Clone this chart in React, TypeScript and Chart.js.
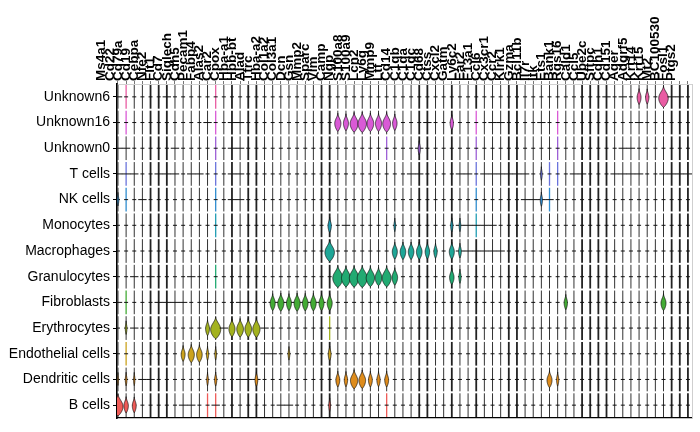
import React, { useEffect, useRef } from "react";
import { Chart, registerables } from "chart.js";
Chart.register(...registerables);

const genes = [
  "Ms4a1", "Cd22", "Cd79a", "Cd19", "Cebpa", "Nfe2", "Flt1", "Cd7", "Siglech", "Cdh5",
  "Pecam1", "Fabp4", "Alas2", "Car2", "Cpox", "Hba-a1", "Hbb-bt", "Alad", "Tfrc", "Hba-a2",
  "Col1a2", "Col3a1", "Dcn", "Gsn", "Mmp2", "Sparc", "Vim", "Camp", "Ngp", "S100a8",
  "S100a9", "Lcn2", "Ly6g", "Mmp9", "Ltf", "Cd14", "C1qb", "C1qa", "C1qc", "Cd68",
  "Ctss", "Cxcl2", "Gatm", "Ly6c2", "Ear2", "F13a1", "Ccl6", "Cx3cr1", "Ccr2", "Klrk1",
  "Gzma", "Bcl11b", "Il7r", "Itk", "Ets1", "Bank1", "Rgs16", "Cald1", "Ccl5", "Ube2c",
  "Sftpc", "Cdh1", "Cd151", "Ager", "Adgrf5", "Krt14", "Krt15", "Mt2", "BC100530", "Fosl1",
  "Ptgs2",
];

const cellTypes = [
  "Unknown6", "Unknown16", "Unknown0", "T cells", "NK cells", "Monocytes", "Macrophages",
  "Granulocytes", "Fibroblasts", "Erythrocytes", "Endothelial cells", "Dendritic cells", "B cells",
];

const rowColors = [
  "#e95ca3", "#d95ad6", "#9d5fd6", "#6a73dc", "#2f8ccf", "#1f9db3", "#1fa697",
  "#22aa72", "#43ab35", "#a3b21f", "#cba21e", "#de8c1c", "#ef5b57",
];

// violin body sizes (gene index, relative size 0..1) per cell type
const bulbsUnknown6: [number, number][] = [[1, 0.05], [12, 0.05], [64, 0.35], [65, 0.3], [67, 0.85]];
const bulbsUnknown16: [number, number][] = [[1, 0.05], [12, 0.05], [27, 0.55], [28, 0.45], [29, 0.7], [30, 0.75], [31, 0.6], [32, 0.55], [33, 0.7], [34, 0.4], [41, 0.3], [44, 0.05], [54, 0.05]];
const bulbsUnknown0: [number, number][] = [[12, 0.05], [33, 0.05], [37, 0.2], [44, 0.05], [54, 0.05]];
const bulbsTcells: [number, number][] = [[1, 0.05], [12, 0.05], [44, 0.05], [52, 0.15], [53, 0.05], [54, 0.05]];
const bulbsNKcells: [number, number][] = [[0, 0.15], [1, 0.05], [12, 0.05], [44, 0.05], [52, 0.2], [53, 0.05]];
const bulbsMonocytes: [number, number][] = [[12, 0.05], [26, 0.3], [34, 0.15], [41, 0.2], [42, 0.15], [44, 0.05]];
const bulbsMacrophages: [number, number][] = [[26, 0.85], [34, 0.45], [35, 0.5], [36, 0.5], [37, 0.5], [38, 0.4], [39, 0.3], [41, 0.45], [42, 0.25]];
const bulbsGranulocytes: [number, number][] = [[12, 0.05], [27, 0.9], [28, 0.8], [29, 0.85], [30, 0.9], [31, 0.75], [32, 0.6], [33, 0.8], [34, 0.5], [41, 0.4], [42, 0.2]];
const bulbsFibroblasts: [number, number][] = [[1, 0.05], [19, 0.45], [20, 0.55], [21, 0.45], [22, 0.55], [23, 0.5], [24, 0.5], [25, 0.45], [26, 0.45], [55, 0.3], [67, 0.45]];
const bulbsErythrocytes: [number, number][] = [[1, 0.15], [11, 0.35], [12, 0.9], [14, 0.55], [15, 0.6], [16, 0.6], [17, 0.65], [26, 0.05]];
const bulbsEndothelial: [number, number][] = [[1, 0.05], [8, 0.35], [9, 0.55], [10, 0.5], [11, 0.2], [12, 0.15], [21, 0.15], [26, 0.25]];
const bulbsDendritic: [number, number][] = [[0, 0.1], [1, 0.15], [2, 0.12], [11, 0.15], [12, 0.2], [17, 0.25], [27, 0.35], [28, 0.3], [29, 0.65], [30, 0.6], [31, 0.35], [32, 0.3], [33, 0.35], [53, 0.45], [54, 0.2]];
const bulbsBcells: [number, number][] = [[0, 0.9], [1, 0.4], [2, 0.35], [11, 0.05], [12, 0.05], [26, 0.15], [33, 0.05]];

const bulbsByRow = [
  bulbsUnknown6, bulbsUnknown16, bulbsUnknown0, bulbsTcells, bulbsNKcells, bulbsMonocytes,
  bulbsMacrophages, bulbsGranulocytes, bulbsFibroblasts, bulbsErythrocytes, bulbsEndothelial,
  bulbsDendritic, bulbsBcells,
];

// genes with broad, low expression in every cell type (thicker stems)
const thickStems = [4, 5, 6, 14, 16, 17, 25, 26, 37, 38, 41, 44, 48, 49, 57, 58, 59, 60, 68, 69, 70];

// genes whose zero-spike is wide, per cell type
const wideUnknown6 = [0, 6, 60, 62, 68, 69];
const wideUnknown16 = [11, 14, 15, 38, 46, 47, 52, 64];
const wideUnknown0 = [0, 1, 7, 14, 15, 37, 62, 63];
const wideTcells = [0, 1, 2, 5, 6, 7, 9, 10, 14, 15, 36, 37, 42, 43, 45, 46, 47, 48, 49, 50, 56, 57, 61, 62, 63, 64, 67, 68, 69, 70];
const wideNKcells = [3, 14, 15, 50, 51, 52, 53];
const wideMonocytes = [28, 42, 43, 44, 45, 46];
const wideMacrophages = [26, 42, 43, 44, 45, 46, 47];
const wideGranulocytes = [2, 4, 9];
const wideFibroblasts = [0, 5, 6, 7, 8, 11, 15, 16, 19, 20, 21, 22, 23, 24, 25];
const wideErythrocytes = [2, 13, 18];
const wideEndothelial = [14, 15, 16, 18, 19];
const wideDendritic = [3, 4, 15, 16, 17];
const wideBcells = [8, 9, 12, 20, 21];

const wideByRow = [
  wideUnknown6, wideUnknown16, wideUnknown0, wideTcells, wideNKcells, wideMonocytes,
  wideMacrophages, wideGranulocytes, wideFibroblasts, wideErythrocytes, wideEndothelial,
  wideDendritic, wideBcells,
];

type Cell = { x: number; y: number; s: number; wide: boolean; thick: boolean };

function buildCells(): Cell[] {
  const cells: Cell[] = [];
  cellTypes.forEach((_, r) => {
    const m = new Map<number, number>(bulbsByRow[r]);
    genes.forEach((_, g) => {
      cells.push({
        x: g,
        y: r,
        s: m.get(g) ?? 0,
        wide: wideByRow[r].includes(g),
        thick: thickStems.includes(g),
      });
    });
  });
  return cells;
}

const violinPlugin = {
  id: "violins",
  afterDatasetsDraw(chart: any) {
    const { ctx, chartArea, scales } = chart;
    const ys = scales.y;
    const meta = chart.getDatasetMeta(0);
    const data = chart.data.datasets[0].data as Cell[];
    ctx.save();
    ctx.beginPath();
    ctx.rect(chartArea.left, chartArea.top, chartArea.right - chartArea.left, chartArea.bottom - chartArea.top);
    ctx.clip();
    meta.data.forEach((el: any, i: number) => {
      const d = data[i];
      const x = el.x;
      const cy = el.y;
      const p1 = ys.getPixelForValue(d.y - 0.5);
      const p2 = ys.getPixelForValue(d.y + 0.5);
      const top = Math.min(p1, p2) + 1;
      const bot = Math.max(p1, p2) - 1;
      const color = rowColors[d.y];
      // stem
      ctx.beginPath();
      ctx.moveTo(x, top);
      ctx.lineTo(x, bot);
      if (d.s > 0 && d.s < 0.1) {
        ctx.strokeStyle = color;
        ctx.lineWidth = 1.3;
      } else if (d.thick) {
        ctx.strokeStyle = "#222";
        ctx.lineWidth = 1.8;
      } else {
        ctx.strokeStyle = "#333";
        ctx.lineWidth = 1;
      }
      ctx.stroke();
      // zero spike
      const tw = d.wide ? 4.2 : 2;
      ctx.beginPath();
      ctx.moveTo(x - tw, cy);
      ctx.lineTo(x + tw, cy);
      ctx.strokeStyle = "#111";
      ctx.lineWidth = 1;
      ctx.stroke();
      // body
      if (d.s >= 0.1) {
        const hw = d.s * 5.6;
        const mid = cy + 1.5 * d.s;
        const up = (mid - top) * (0.55 + 0.45 * d.s);
        const down = (bot - mid) * (0.45 + 0.5 * d.s);
        const N = 18;
        const right: [number, number][] = [];
        for (let k = 0; k <= N; k++) {
          const f = k / N;
          right.push([x + hw * Math.pow(Math.sin((f * Math.PI) / 2), 1.8), mid - up + f * up]);
        }
        for (let k = 1; k <= N; k++) {
          const f = k / N;
          right.push([x + hw * Math.pow(Math.cos((f * Math.PI) / 2), 0.8), mid + f * down]);
        }
        ctx.beginPath();
        right.forEach(([px, py], k) => (k === 0 ? ctx.moveTo(px, py) : ctx.lineTo(px, py)));
        for (let k = right.length - 1; k >= 0; k--) {
          const [px, py] = right[k];
          ctx.lineTo(2 * x - px, py);
        }
        ctx.closePath();
        ctx.fillStyle = color;
        ctx.fill();
        ctx.strokeStyle = "#111";
        ctx.lineWidth = 0.7;
        ctx.stroke();
      }
    });
    ctx.restore();
  },
};

const FONT = '"Liberation Sans", Arial, Helvetica, sans-serif';

export default function App() {
  const ref = useRef<HTMLCanvasElement | null>(null);
  useEffect(() => {
    if (!ref.current) return;
    const cells = buildCells();
    const chart = new Chart(ref.current, {
      type: "scatter",
      data: {
        datasets: [
          {
            data: cells as any,
            pointRadius: 0,
            pointHoverRadius: 0,
            showLine: false,
          },
        ],
      },
      options: {
        responsive: false,
        animation: false,
        devicePixelRatio: 1,
        events: [],
        layout: { padding: { left: 8, right: 8, top: 0, bottom: 14 } },
        plugins: { legend: { display: false }, tooltip: { enabled: false } },
        scales: {
          x: {
            type: "linear",
            position: "top",
            min: -0.12,
            max: 70.5,
            afterBuildTicks: (s: any) => {
              s.ticks = genes.map((_, i) => ({ value: i }));
            },
            afterFit: (s: any) => {
              s.height = 84;
            },
            ticks: {
              autoSkip: false,
              minRotation: 90,
              maxRotation: 90,
              padding: 0,
              color: "#000",
              font: { family: FONT, size: 13.5, weight: "bold" },
              callback: (v: any) => genes[v as number],
            },
            grid: { drawOnChartArea: false, drawTicks: true, tickLength: 3, color: "#555", lineWidth: 0.8 },
            border: { display: true, color: "#d2d2d2", width: 1 },
          },
          xb: {
            type: "linear",
            position: "bottom",
            min: -0.12,
            max: 70.5,
            afterFit: (s: any) => {
              s.height = 0;
            },
            ticks: { display: false },
            grid: { display: false, drawTicks: false },
            border: { display: true, color: "#000", width: 1.3 },
            z: 1,
          },
          y: {
            type: "linear",
            position: "left",
            min: -0.5,
            max: 12.5,
            reverse: true,
            afterBuildTicks: (s: any) => {
              s.ticks = cellTypes.map((_, i) => ({ value: i }));
            },
            afterFit: (s: any) => {
              s.width = 109;
            },
            ticks: {
              autoSkip: false,
              padding: 3,
              color: "#000",
              font: { family: FONT, size: 14 },
              callback: (v: any) => cellTypes[v as number],
            },
            grid: { drawOnChartArea: false, drawTicks: true, tickLength: 4, color: "#000", lineWidth: 1 },
            border: { display: true, color: "#000", width: 1.6 },
            z: 1,
          },
          yr: {
            type: "linear",
            position: "right",
            min: -0.5,
            max: 12.5,
            afterFit: (s: any) => {
              s.width = 0;
            },
            ticks: { display: false },
            grid: { display: false, drawTicks: false },
            border: { display: true, color: "#cfcfcf", width: 1 },
          },
        },
      },
      plugins: [violinPlugin],
    });
    return () => chart.destroy();
  }, []);
  return (
    <canvas
      ref={ref}
      width={700}
      height={432}
      style={{ position: "fixed", left: 0, top: 0, width: 700, height: 432, background: "#fff" }}
    />
  );
}
